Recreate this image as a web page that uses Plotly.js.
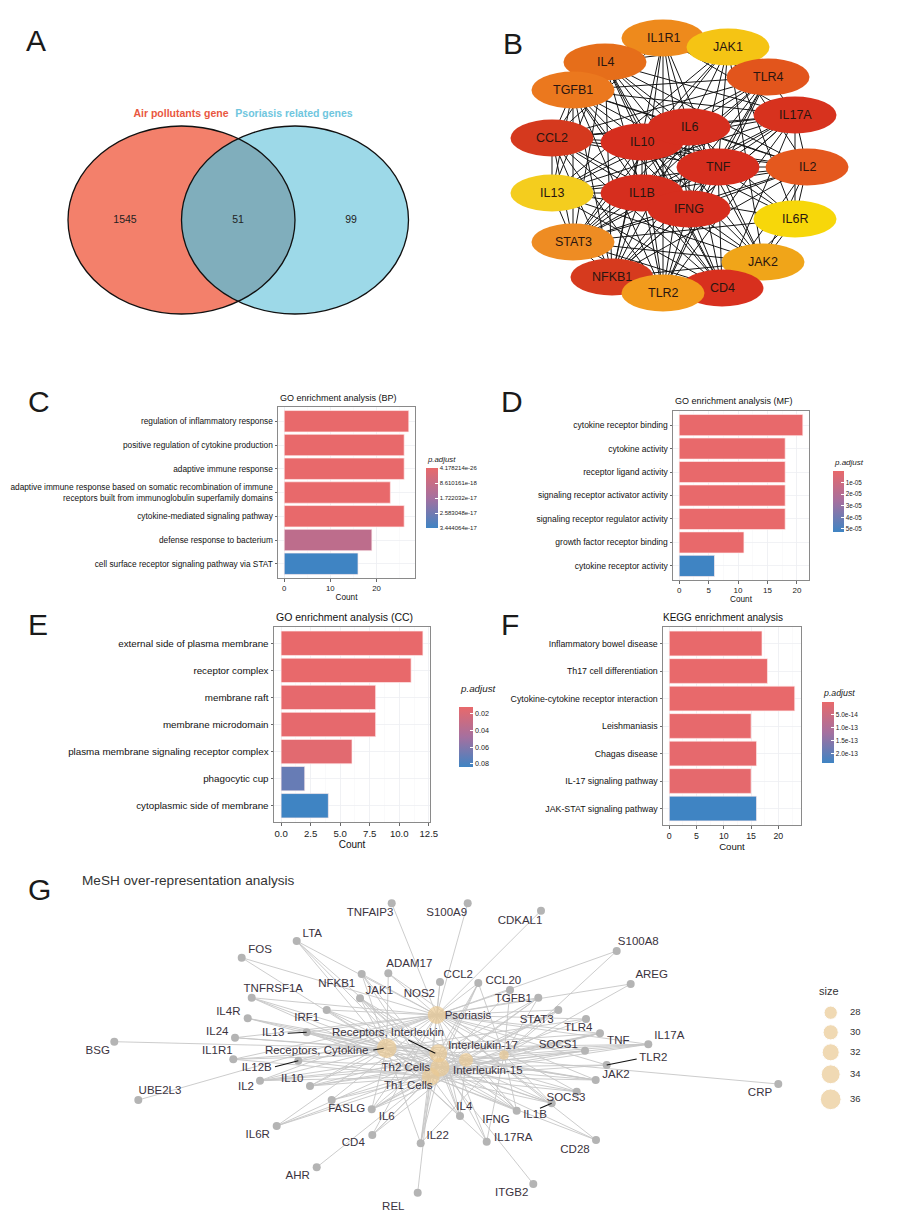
<!DOCTYPE html>
<html><head><meta charset="utf-8">
<script src="https://cdn.plot.ly/plotly-3.0.1.min.js"></script>
<style>html,body{margin:0;padding:0;background:#fff}#chart{width:897px;height:1223px}</style>
</head><body><div id="chart"></div>
<script>
// ---------------- DATA ----------------
// Panel A (Venn)
const vennSets = ['Air pollutants gene', 'Psoriasis related genes'];
const vennCounts = [1545, 51, 99]; // only A, A∩B, only B

// Panel B (PPI network of hub genes)
const ppiNodes = ['IL1R1','JAK1','IL4','TGFB1','TLR4','IL17A','CCL2','IL10','IL6','TNF','IL2','IL13','IL1B','IFNG','IL6R','STAT3','JAK2','NFKB1','CD4','TLR2'];
const ppiNodeX = [663,728,605,573,768,795,552,642,689,718,807,552,642,689,795,573,763,612,722,663];
const ppiNodeY = [38,47,62,90,77,115,138,142,127,167,167,193,193,209,219,242,262,277,288,293];
const ppiDegreeColor = ['#EE8A1C','#F5C414','#E66E1A','#EB781E','#E2551C','#D7321E','#D5391E','#D62E1E','#D62E1E','#D62E1E','#E4581E','#F4CD1E','#D62E1E','#D62E1E','#F7D70A','#EE8C23','#F0A519','#D63A1E','#D8301E','#F29B1C'];
const ppiLinks = {
  IL6: 'IL1R1 JAK1 IL4 TLR4 TGFB1 IL17A CCL2 IL10 TNF IL2 IL13 IL1B IFNG IL6R STAT3 JAK2 NFKB1 CD4 TLR2',
  TNF: 'IL1R1 JAK1 IL4 TLR4 TGFB1 IL17A CCL2 IL10 IL2 IL13 IL1B IFNG IL6R STAT3 JAK2 NFKB1 CD4 TLR2',
  IL1B: 'IL1R1 IL4 TLR4 TGFB1 IL17A CCL2 IL10 IL2 IL13 IFNG IL6R STAT3 JAK2 NFKB1 CD4 TLR2',
  IFNG: 'IL1R1 JAK1 IL4 TLR4 TGFB1 IL17A CCL2 IL10 IL2 IL13 STAT3 JAK2 NFKB1 CD4 TLR2',
  IL10: 'JAK1 IL4 TLR4 TGFB1 IL17A CCL2 IL2 IL13 IL6R STAT3 JAK2 NFKB1 CD4 TLR2',
  CCL2: 'IL1R1 IL4 TLR4 TGFB1 IL17A IL2 IL13 STAT3 NFKB1 CD4 TLR2',
  IL17A: 'IL1R1 IL4 TLR4 TGFB1 IL2 IL13 IL6R STAT3 NFKB1 CD4 TLR2',
  NFKB1: 'IL1R1 TLR4 TGFB1 IL2 STAT3 JAK2 TLR2 CD4 IL4',
  CD4: 'IL4 TGFB1 IL2 IL13 STAT3 JAK2 TLR2 IL6R',
  IL2: 'JAK1 IL4 TGFB1 IL13 STAT3 JAK2 IL6R',
  IL4: 'JAK1 TGFB1 IL13 STAT3 JAK2 IL1R1',
  TLR4: 'TLR2 STAT3 TGFB1 IL1R1',
  TGFB1: 'STAT3 IL13 TLR2',
  STAT3: 'JAK1 JAK2 IL6R IL13 TLR2',
  JAK1: 'JAK2 IL6R IL13',
  JAK2: 'IL6R IL13',
  TLR2: 'IL1R1'
};

// Panel C: GO BP
const bpTerms = ['regulation of inflammatory response','positive regulation of cytokine production','adaptive immune response',
  'adaptive immune response based on somatic recombination of immune<br>receptors built from immunoglobulin superfamily domains',
  'cytokine-mediated signaling pathway','defense response to bacterium','cell surface receptor signaling pathway via STAT'];
const bpCounts = [27, 26, 26, 23, 26, 19, 16];
const bpPadj = [4.178214e-26, 2.1e-24, 3.5e-22, 1.1e-20, 6.2e-23, 1.1e-17, 3.444064e-17];
const bpLegendTicks = [4.178214e-26, 8.610161e-18, 1.722032e-17, 2.583048e-17, 3.444064e-17];
const bpLegendLabels = ['4.178214e-26','8.610161e-18','1.722032e-17','2.583048e-17','3.444064e-17'];

// Panel D: GO MF
const mfTerms = ['cytokine receptor binding','cytokine activity','receptor ligand activity','signaling receptor activator activity',
  'signaling receptor regulator activity','growth factor receptor binding','cytokine receptor activity'];
const mfCounts = [21, 18, 18, 18, 18, 11, 6];
const mfPadj = [5.2e-13, 3.0e-11, 1.6e-09, 2.2e-09, 8.5e-09, 4.0e-08, 5.26e-05];
const mfLegendTicks = [1e-05, 2e-05, 3e-05, 4e-05, 5e-05];
const mfLegendLabels = ['1e-05','2e-05','3e-05','4e-05','5e-05'];

// Panel E: GO CC
const ccTerms = ['external side of plasma membrane','receptor complex','membrane raft','membrane microdomain',
  'plasma membrane signaling receptor complex','phagocytic cup','cytoplasmic side of membrane'];
const ccCounts = [12, 11, 8, 8, 6, 2, 4];
const ccPadj = [0.0118, 0.0118, 0.0131, 0.0131, 0.0152, 0.0700, 0.0841];
const ccLegendTicks = [0.02, 0.04, 0.06, 0.08];
const ccLegendLabels = ['0.02','0.04','0.06','0.08'];

// Panel F: KEGG
const keggTerms = ['Inflammatory bowel disease','Th17 cell differentiation','Cytokine-cytokine receptor interaction',
  'Leishmaniasis','Chagas disease','IL-17 signaling pathway','JAK-STAT signaling pathway'];
const keggCounts = [17, 18, 23, 15, 16, 15, 16];
const keggPadj = [2.3e-15, 2.3e-15, 2.5e-15, 4.1e-15, 6.0e-15, 7.2e-15, 2.35e-13];
const keggLegendTicks = [5e-14, 1e-13, 1.5e-13, 2e-13];
const keggLegendLabels = ['5.0e-14','1.0e-13','1.5e-13','2.0e-13'];

// Panel G: MeSH network
const meshTerms = ['Psoriasis','Receptors, Interleukin','Receptors, Cytokine','Th2 Cells','Th1 Cells','Interleukin-17','Interleukin-15'];
const meshSize = [33, 33, 35, 34, 33, 24, 29];
const meshNodeX = [436.7, 438.3, 386.7, 440, 430.7, 504, 466];
const meshNodeY = [1015, 1053.3, 1048.3, 1067.3, 1076.7, 1055, 1060];
const meshLabelX = [468, 388, 316.7, 405.8, 408.3, 483, 487.8];
const meshLabelY = [1015.7, 1033.3, 1051, 1067.7, 1086, 1045.7, 1071];

const genes = ['TNFAIP3','S100A9','CDKAL1','LTA','FOS','S100A8','ADAM17','NFKB1','NOS2','CCL2','CCL20','TGFB1','AREG','TNFRSF1A','JAK1','IRF1','IL4R','STAT3','TLR4','IL24','IL13','TNF','IL17A','BSG','SOCS1','IL1R1','IL12B','TLR2','JAK2','IL10','IL2','CRP','SOCS3','UBE2L3','FASLG','IL1B','IL6','IL4','IFNG','IL6R','CD4','IL22','IL17RA','CD28','AHR','ITGB2','REL'];
const geneX = [391.7,467.7,541,296.7,241.7,616.7,388.3,361.7,440,478.3,510,538.3,630.7,251.7,360,326.7,247.7,558.3,586,235,306.7,600,648.3,114.3,585,233.3,298.3,606.7,595.7,310,260,778.3,576.7,138.3,331.7,551.7,371.7,460,516.7,276.7,372.3,420.7,486.7,596,316.7,533.3,417.7];
const geneY = [903.3,903.3,910.7,941,957.7,951,973.3,974,982,983,990,997.7,984,997.7,998.3,1010,1018.3,1010,1019,1037.7,1032.3,1033.3,1044.3,1041.7,1050.7,1059.3,1060.7,1065,1080,1086,1080.7,1084,1091.7,1100,1100,1103.3,1109.3,1116,1110.7,1126,1135,1143.3,1141.7,1140,1167.3,1184,1192.7];
const geneLabelX = [370,446.7,520,312.3,260,638.3,409.3,336.7,419.3,458.3,503.3,513.3,651.7,273.3,379.3,306.7,228.3,536.7,578.3,217.3,273.3,618.3,669.3,97.7,558.3,217.3,256.7,653.3,616,292.3,246,760,566,160,346.7,535,386.7,464.3,496,257.7,353.3,437.7,513.3,575,297.7,511.7,393.3];
const geneLabelY = [912.7,913.3,920.7,934.3,950.3,941.7,964.3,984.3,994,975,981,999.3,975.3,989,990.7,1018.3,1011.7,1020,1028.3,1031.7,1033.3,1041,1035.7,1051,1045,1051,1067.7,1058.3,1075,1079.3,1087.3,1092.7,1098.3,1090.7,1109.3,1115,1116.7,1106.7,1120,1135,1143.3,1136,1137.7,1150,1176,1193.3,1206.7];
// indices into meshTerms
const geneTerms = [[0],[0],[0],[0,4,3,2],[0,4],[0,5],[0,5,2],[0,3,4,2],[0,4],[0,3,4,1,5],[0,5,3],[0,3,4,5,1],[0,5],[0,2,1,4],[2,1,3,4,6],[0,4,3,6],[2,1,3],[0,3,4,5,6],[0,4,2],[0,2,1],[0,2,1,3,4],[0,2,3,4,5,6],[0,2,1,3,4,5],[2],[0,3,4,6],[0,2,1,4],[0,2,3,4],[0,4,3],[0,2,1,3,4,6],[0,2,1,3,4,6],[0,2,1,3,4,6],[1],[0,3,4,6],[0],[0,3,4],[0,2,1,3,4,5],[0,2,1,3,4,5,6],[0,2,1,3,4,6],[0,2,1,3,4,5,6],[2,1,3,4],[0,3,4,6],[0,2,1,3,4,5],[0,2,1,5],[0,3,4],[4],[3],[4]];
const sizeLegendValues = [28, 30, 32, 34, 36];

// ---------------- HELPERS ----------------
const W = 897, H = 1223;
const fx = p => p / W;
const fy = p => 1 - p / H;
const FONT = 'Liberation Sans, Arial, Helvetica, sans-serif';
const RED = '#E8696B', BLUE = '#3F84C3';
const pScale = [[0, BLUE], [0.5, '#A5709F'], [1, RED]];
const sizeToPx = s => 13.3 + (s - 28) * 0.925;

const traces = [];
const shapes = [];
const annotations = [];

// ---------------- PANEL A ----------------
const vennL = {cx: 181.5, cy: 220, rx: 113.5, ry: 94};
const vennR = {cx: 295, cy: 220, rx: 113.5, ry: 94};
function arc(e, t0, t1, n) {
  const pts = [];
  for (let i = 0; i <= n; i++) {
    const t = (t0 + (t1 - t0) * i / n) * Math.PI / 180;
    pts.push([e.cx + e.rx * Math.cos(t), e.cy + e.ry * Math.sin(t)]);
  }
  return pts;
}
const aL = Math.acos(((vennL.cx + vennR.cx) / 2 - vennL.cx) / vennL.rx) * 180 / Math.PI;
const lensPts = arc(vennL, -aL, aL, 40).concat(arc(vennR, 180 - aL, 180 + aL, 40));
const lensPath = 'M' + lensPts.map(p => p[0].toFixed(2) + ',' + p[1].toFixed(2)).join('L') + 'Z';
[[vennL, '#F3806B'], [vennR, '#9DD9E8']].forEach(([e, c]) => shapes.push({type: 'circle', xref: 'x', yref: 'y', layer: 'below',
  x0: e.cx - e.rx, x1: e.cx + e.rx, y0: e.cy - e.ry, y1: e.cy + e.ry, fillcolor: c, line: {width: 0}}));
shapes.push({type: 'path', xref: 'x', yref: 'y', layer: 'below', path: lensPath, fillcolor: '#80AEBC', line: {width: 0}});
[vennL, vennR].forEach(e => shapes.push({type: 'circle', xref: 'x', yref: 'y', layer: 'below',
  x0: e.cx - e.rx, x1: e.cx + e.rx, y0: e.cy - e.ry, y1: e.cy + e.ry, fillcolor: 'rgba(0,0,0,0)', line: {width: 1.3, color: '#111'}}));
traces.push({type: 'scatter', mode: 'text', xaxis: 'x', yaxis: 'y', hoverinfo: 'skip',
  x: [125, 238, 351], y: [220, 220, 220], text: vennCounts.map(String),
  textfont: {family: FONT, size: 10.5, color: '#222'}});
traces.push({type: 'scatter', mode: 'text', xaxis: 'x', yaxis: 'y', hoverinfo: 'skip',
  x: [181, 294], y: [114, 114], text: vennSets.map(s => '<b>' + s + '</b>'),
  textfont: {family: FONT, size: 10.5, color: ['#E9573F', '#6FC6DE']}});

// ---------------- PANEL B ----------------
const idx = {};
ppiNodes.forEach((n, i) => idx[n] = i);
const ex = [], ey = [];
Object.keys(ppiLinks).forEach(a => ppiLinks[a].split(' ').forEach(b => {
  ex.push(ppiNodeX[idx[a]], ppiNodeX[idx[b]], null);
  ey.push(ppiNodeY[idx[a]], ppiNodeY[idx[b]], null);
}));
traces.push({type: 'scatter', mode: 'lines', xaxis: 'x', yaxis: 'y', x: ex, y: ey, hoverinfo: 'skip',
  line: {color: '#161616', width: 1}});
ppiNodes.forEach((n, i) => {
  shapes.push({type: 'circle', xref: 'x', yref: 'y', layer: 'above',
    x0: ppiNodeX[i] - 41.5, x1: ppiNodeX[i] + 41.5, y0: ppiNodeY[i] - 18.5, y1: ppiNodeY[i] + 18.5,
    fillcolor: ppiDegreeColor[i], line: {width: 0}});
  annotations.push({xref: 'x', yref: 'y', x: ppiNodeX[i], y: ppiNodeY[i], text: n, showarrow: false,
    font: {family: FONT, size: 12.5, color: '#2a1510'}});
});

// ---------------- PANELS C-F (bar charts) ----------------
function barPanel(ax, terms, counts, padj, pmin, pmax, ticks, tickLabels, cb) {
  traces.push({type: 'bar', orientation: 'h', xaxis: 'x' + ax, yaxis: 'y' + ax, hoverinfo: 'skip',
    x: counts, y: terms, width: 0.9,
    marker: {color: padj.map(v => -v), colorscale: pScale, cmin: -pmax, cmax: -pmin, showscale: true,
      line: {color: 'rgba(255,235,235,0.85)', width: 0.8},
      colorbar: {x: fx(cb.x), xanchor: 'left', y: fy(cb.y), yanchor: 'top', len: cb.len, lenmode: 'pixels',
        thickness: cb.th, thicknessmode: 'pixels', outlinewidth: 0, xpad: 0, ypad: 0,
        tickvals: ticks.map(v => -v), ticktext: tickLabels, ticks: 'inside', ticklen: 3, tickcolor: 'white',
        tickfont: {family: FONT, size: cb.fs, color: '#222'}}}});
  annotations.push({xref: 'paper', yref: 'paper', x: fx(cb.x - 1), y: fy(cb.ty), xanchor: 'left', yanchor: 'middle',
    showarrow: false, text: '<i>p.adjust</i>', font: {family: FONT, size: cb.tfs, color: '#222'}});
}
function axesFor(n, px, py, xr, xt, xtl, minor, fs, yfs, cats, tfs) {
  const grid = '#EDEFF3';
  layoutAxes['xaxis' + n] = {domain: [fx(px[0]), fx(px[1])], anchor: 'y' + n, range: xr, autorange: false,
    tickvals: xt, ticktext: xtl, ticks: 'outside', ticklen: 2.5, tickcolor: '#444', tickwidth: 0.8,
    showline: true, mirror: true, linecolor: '#8A8A8A', linewidth: 1, zeroline: false,
    showgrid: true, gridcolor: grid, gridwidth: 0.8,
    minor: {dtick: minor, tick0: 0, showgrid: true, gridcolor: '#F5F6F8', gridwidth: 0.5, ticks: ''},
    tickfont: {family: FONT, size: fs, color: '#222'},
    title: {text: 'Count', font: {family: FONT, size: tfs, color: '#111'}, standoff: 2}, fixedrange: true};
  layoutAxes['yaxis' + n] = {domain: [fy(py[1]), fy(py[0])], anchor: 'x' + n, type: 'category',
    categoryorder: 'array', categoryarray: cats, range: [cats.length - 0.4, -0.6], autorange: false,
    ticks: 'outside', ticklen: 2.5, tickcolor: '#444', tickwidth: 0.8,
    showline: true, mirror: true, linecolor: '#8A8A8A', linewidth: 1, zeroline: false,
    showgrid: true, gridcolor: grid, gridwidth: 0.8,
    tickfont: {family: FONT, size: yfs, color: '#111'}, fixedrange: true};
}
const layoutAxes = {};

barPanel(2, bpTerms, bpCounts, bpPadj, bpLegendTicks[0], bpLegendTicks[4], bpLegendTicks, bpLegendLabels,
  {x: 426, y: 468, len: 60, th: 12, fs: 6, ty: 459, tfs: 7.8});
axesFor(2, [278, 415], [407, 578], [-1.35, 28.35], [0, 10, 20], ['0', '10', '20'], 5, 7.8, 8.3, bpTerms, 8.2);

barPanel(3, mfTerms, mfCounts, mfPadj, mfPadj[0], 5.26e-05, mfLegendTicks, mfLegendLabels,
  {x: 833, y: 471, len: 61, th: 11, fs: 6.3, ty: 462, tfs: 8});
axesFor(3, [673, 809], [411, 580], [-1.05, 22.05], [0, 5, 10, 15, 20], ['0', '5', '10', '15', '20'], 2.5, 8, 8.5, mfTerms, 8.2);

barPanel(4, ccTerms, ccCounts, ccPadj, 0.0118, 0.0841, ccLegendTicks, ccLegendLabels,
  {x: 459, y: 707, len: 60, th: 14, fs: 7.2, ty: 688, tfs: 9.8});
axesFor(4, [274, 430], [627, 822], [-0.6, 12.6], [0, 2.5, 5, 7.5, 10, 12.5], ['0.0', '2.5', '5.0', '7.5', '10.0', '12.5'], 1.25, 9.6, 9.8, ccTerms, 10);

barPanel(5, keggTerms, keggCounts, keggPadj, 2.3e-15, 2.35e-13, keggLegendTicks, keggLegendLabels,
  {x: 822, y: 702, len: 61, th: 12, fs: 6.5, ty: 693, tfs: 8.8});
axesFor(5, [663, 801], [627, 825], [-1.15, 24.15], [0, 5, 10, 15, 20], ['0', '5', '10', '15', '20'], 2.5, 8.8, 8.8, keggTerms, 9.6);

[['GO enrichment analysis (BP)', 278, 398.3, 9], ['GO enrichment analysis (MF)', 673, 400.7, 9],
 ['GO enrichment analysis (CC)', 274, 617.3, 10.5], ['KEGG enrichment analysis', 661, 617.3, 10]].forEach(t =>
  annotations.push({xref: 'paper', yref: 'paper', x: fx(t[1]), y: fy(t[2]), xanchor: 'left', yanchor: 'middle',
    showarrow: false, text: t[0], font: {family: FONT, size: t[3], color: '#111'}}));

// ---------------- PANEL G ----------------
const gx = [], gy = [];
geneTerms.forEach((list, i) => list.forEach(k => {
  gx.push(geneX[i], meshNodeX[k], null); gy.push(geneY[i], meshNodeY[k], null);
}));
traces.push({type: 'scatter', mode: 'lines', xaxis: 'x', yaxis: 'y', x: gx, y: gy, hoverinfo: 'skip',
  line: {color: '#C6C6C6', width: 0.9}});
traces.push({type: 'scatter', mode: 'markers', xaxis: 'x', yaxis: 'y', x: geneX, y: geneY, hoverinfo: 'skip',
  marker: {size: 8, color: '#B4B4B4'}});
traces.push({type: 'scatter', mode: 'markers', xaxis: 'x', yaxis: 'y', x: meshNodeX, y: meshNodeY, hoverinfo: 'skip',
  marker: {size: meshSize.map(sizeToPx), color: '#EAC993', line: {width: 0}}});
// label leader lines (ggrepel segments)
const lx = [], ly = [];
[['IL13', 287.7, 1033.3], ['IL12B', 275, 1066.7], ['TLR2', 636.7, 1059], ['IL1B', 540, 1108.3]].forEach(s => {
  const i = genes.indexOf(s[0]);
  lx.push(s[1], geneX[i], null); ly.push(s[2], geneY[i], null);
});
[[1, 408.3, 1040], [2, 373.3, 1050]].forEach(s => {
  lx.push(s[1], meshNodeX[s[0]] - 3, null); ly.push(s[2], meshNodeY[s[0]], null);
});
traces.push({type: 'scatter', mode: 'lines', xaxis: 'x', yaxis: 'y', x: lx, y: ly, hoverinfo: 'skip',
  line: {color: '#111', width: 1.1}});
traces.push({type: 'scatter', mode: 'text', xaxis: 'x', yaxis: 'y', x: geneLabelX, y: geneLabelY, text: genes,
  hoverinfo: 'skip', textfont: {family: FONT, size: 11.5, color: '#3b3340'}});
traces.push({type: 'scatter', mode: 'text', xaxis: 'x', yaxis: 'y', x: meshLabelX, y: meshLabelY, text: meshTerms,
  hoverinfo: 'skip', textfont: {family: FONT, size: 11.5, color: '#3b3340'}});
// size legend
const legY = [1012.7, 1032.3, 1052.3, 1074.3, 1099.3];
traces.push({type: 'scatter', mode: 'markers', xaxis: 'x', yaxis: 'y', x: sizeLegendValues.map(() => 830.7), y: legY,
  hoverinfo: 'skip', marker: {size: sizeLegendValues.map(sizeToPx), color: '#EAC993'}});
traces.push({type: 'scatter', mode: 'text', xaxis: 'x', yaxis: 'y', x: sizeLegendValues.map(() => 850), y: legY,
  text: sizeLegendValues.map(String), textposition: 'middle right', hoverinfo: 'skip',
  textfont: {family: FONT, size: 9.5, color: '#333'}});
annotations.push({xref: 'x', yref: 'y', x: 817, y: 990.7, xanchor: 'left', yanchor: 'middle', showarrow: false,
  text: 'size', font: {family: FONT, size: 11, color: '#333'}});
annotations.push({xref: 'x', yref: 'y', x: 80, y: 880, xanchor: 'left', yanchor: 'middle', showarrow: false,
  text: 'MeSH over-representation analysis', font: {family: FONT, size: 13.6, color: '#333'}});

// Panel letters
[['A', 24, 40], ['B', 501, 43], ['C', 26, 401], ['D', 499, 401], ['E', 26, 624], ['F', 499, 624], ['G', 26, 889]].forEach(l =>
  annotations.push({xref: 'x', yref: 'y', x: l[1], y: l[2], xanchor: 'left', yanchor: 'middle', showarrow: false,
    text: l[0], font: {family: FONT, size: 30, color: '#1a1a1a'}}));

const layout = Object.assign({
  width: W, height: H, margin: {l: 0, r: 0, t: 0, b: 0}, showlegend: false,
  paper_bgcolor: '#ffffff', plot_bgcolor: 'rgba(0,0,0,0)', font: {family: FONT},
  xaxis: {domain: [0, 1], range: [0, W], autorange: false, visible: false, fixedrange: true},
  yaxis: {domain: [0, 1], range: [H, 0], autorange: false, visible: false, fixedrange: true},
  shapes: shapes, annotations: annotations
}, layoutAxes);

Plotly.newPlot('chart', traces, layout, {staticPlot: true, displayModeBar: false});
</script></body></html>
